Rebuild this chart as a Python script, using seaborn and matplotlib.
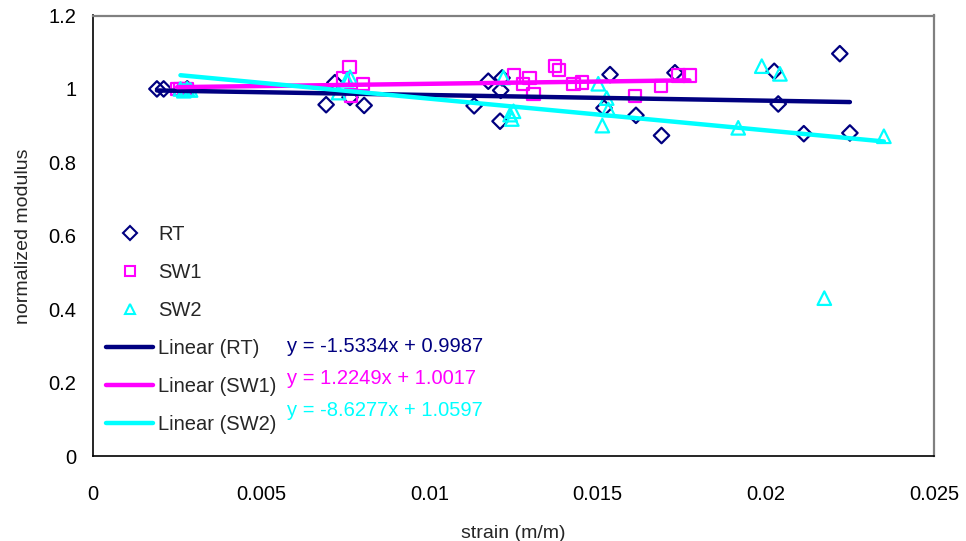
import numpy as np
import pandas as pd
import matplotlib
matplotlib.use("Agg")
import matplotlib.pyplot as plt
from matplotlib.lines import Line2D
import seaborn as sns

# --- measured data -------------------------------------------------------
rt_strain = [0.0019, 0.0021, 0.0028, 0.00693, 0.00719, 0.00764, 0.00806,
             0.01133, 0.01175, 0.01212, 0.01216, 0.0121, 0.01519, 0.01537,
             0.01614, 0.0169, 0.0173, 0.02025, 0.02037, 0.02113, 0.0222, 0.0225]
rt_modulus = [1.0, 1.0, 1.0, 0.957, 1.017, 0.977, 0.955,
              0.954, 1.021, 0.996, 1.030, 0.912, 0.948, 1.039,
              0.928, 0.873, 1.044, 1.048, 0.959, 0.878, 1.096, 0.880]

sw1_strain = [0.0025, 0.0026, 0.0027, 0.0028, 0.00743, 0.00762, 0.00767, 0.00802,
              0.01251, 0.01279, 0.01297, 0.01309, 0.01373, 0.01386, 0.01428,
              0.01453, 0.01611, 0.01688, 0.0174, 0.01773]
sw1_modulus = [1.0, 1.0, 1.0, 1.0, 1.030, 1.059, 0.982, 1.013,
               1.036, 1.014, 1.030, 0.986, 1.062, 1.051, 1.014,
               1.018, 0.980, 1.008, 1.037, 1.037]

sw2_strain = [0.0026, 0.0027, 0.0028, 0.0029, 0.0073, 0.00755, 0.00764,
              0.0122, 0.0124, 0.0125, 0.01245, 0.01502, 0.01514, 0.01527,
              0.01532, 0.01918, 0.01988, 0.02042, 0.02174, 0.02351]
sw2_modulus = [1.0, 0.995, 1.0, 0.997, 0.99, 1.025, 1.032,
               1.031, 0.930, 0.939, 0.918, 1.014, 0.900, 0.975,
               0.944, 0.894, 1.062, 1.041, 0.430, 0.871]

series_names = ["RT", "SW1", "SW2"]
fit_slopes = [-1.5334, 1.2249, -8.6277]
fit_intercepts = [0.9987, 1.0017, 1.0597]

x_ticks = [0, 0.005, 0.01, 0.015, 0.02, 0.025]
x_tick_labels = ["0", "0.005", "0.01", "0.015", "0.02", "0.025"]
y_ticks = [0, 0.2, 0.4, 0.6, 0.8, 1.0, 1.2]
y_tick_labels = ["0", "0.2", "0.4", "0.6", "0.8", "1", "1.2"]

# --- styling ---------------------------------------------------------------
sns.set_style("white")
plt.rcParams["font.family"] = ["Liberation Sans", "DejaVu Sans"]

FS = 14.5
colors = {"RT": "#000080", "SW1": "#FF00FF", "SW2": "#00FFFF"}
markers = {"RT": "D", "SW1": "s", "SW2": "^"}
marker_sizes = {"RT": 62, "SW1": 80, "SW2": 95}

df = pd.concat([
    pd.DataFrame({"strain": rt_strain, "modulus": rt_modulus, "series": "RT"}),
    pd.DataFrame({"strain": sw1_strain, "modulus": sw1_modulus, "series": "SW1"}),
    pd.DataFrame({"strain": sw2_strain, "modulus": sw2_modulus, "series": "SW2"}),
], ignore_index=True)

fig = plt.figure(figsize=(9.66, 5.41), dpi=100)
ax = fig.add_axes([93 / 966, 85 / 541, 841 / 966, 440.5 / 541])

# hollow scatter markers for each series
for name in series_names:
    sub = df[df["series"] == name]
    sns.scatterplot(data=sub, x="strain", y="modulus", ax=ax,
                    marker=markers[name], s=marker_sizes[name],
                    facecolor="none", edgecolor=colors[name],
                    linewidth=1.6, legend=False, zorder=2)

# linear trend lines over each series' strain range
for name, m, b in zip(series_names, fit_slopes, fit_intercepts):
    sub = df[df["series"] == name]
    xs = np.array([sub["strain"].min(), sub["strain"].max()])
    sns.lineplot(x=xs, y=m * xs + b, ax=ax, color=colors[name],
                 linewidth=3.2, legend=False, zorder=3)

ax.set_xlim(0, 0.025)
ax.set_ylim(0, 1.2)
ax.set_xticks(x_ticks)
ax.set_xticklabels(x_tick_labels)
ax.set_yticks(y_ticks)
ax.set_yticklabels(y_tick_labels)
ax.tick_params(axis="both", direction="out", length=5, width=1,
               colors="black", labelsize=FS)
ax.tick_params(axis="x", pad=16)
ax.tick_params(axis="y", pad=7)
ax.grid(False)

for side in ("left", "bottom"):
    ax.spines[side].set_color("black")
    ax.spines[side].set_linewidth(1.2)
for side in ("top", "right"):
    ax.spines[side].set_color("#808080")
    ax.spines[side].set_linewidth(1.6)

ax.set_xlabel("strain (m/m)", fontsize=14, labelpad=15)
ax.set_ylabel("normalized modulus", fontsize=14, labelpad=12)

# legend: markers then trend lines
handles = []
labels = []
for name in series_names:
    handles.append(Line2D([], [], linestyle="none", marker=markers[name],
                          markersize=7.5, markerfacecolor="none",
                          markeredgecolor=colors[name], markeredgewidth=1.5))
    labels.append(name)
for name in series_names:
    handles.append(Line2D([], [], color=colors[name], linewidth=3.2))
    labels.append(f"Linear ({name})")

ax.legend(handles, labels, loc="upper left", frameon=False,
          bbox_to_anchor=(106 / 966, 1 - 225 / 541),
          bbox_transform=fig.transFigure, fontsize=FS,
          handlelength=2.34, handletextpad=0.25, labelspacing=0.94,
          borderpad=0, borderaxespad=0)

# trend line equations
eq_y = [346, 379, 411]
for name, m, b, yp in zip(series_names, fit_slopes, fit_intercepts, eq_y):
    sign = "+" if b >= 0 else "-"
    ax.text(287 / 966, 1 - yp / 541, f"y = {m:.4f}x {sign} {abs(b):.4f}",
            transform=fig.transFigure, color=colors[name], fontsize=FS,
            va="center", ha="left")

fig.savefig("out.png", dpi=100)
